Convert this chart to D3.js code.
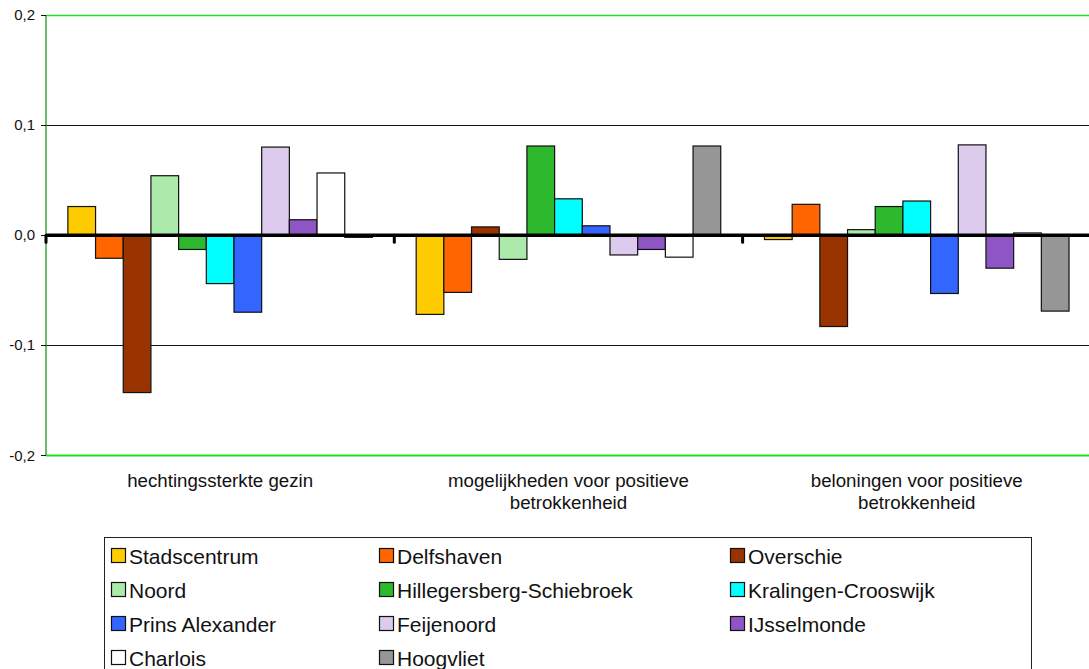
<!DOCTYPE html>
<html><head><meta charset="utf-8">
<script src="https://cdn.jsdelivr.net/npm/d3@7/dist/d3.min.js"></script>
<style>html,body{margin:0;padding:0;background:#fff;overflow:hidden}svg{display:block;font-family:"Liberation Sans",Arial,sans-serif}</style>
</head><body>
<script>
const categories = [["hechtingssterkte gezin"],["mogelijkheden voor positieve","betrokkenheid"],["beloningen voor positieve","betrokkenheid"]];
const seriesNames = ["Stadscentrum","Delfshaven","Overschie","Noord","Hillegersberg-Schiebroek","Kralingen-Crooswijk","Prins Alexander","Feijenoord","IJsselmonde","Charlois","Hoogvliet"];
const seriesColors = ["#FFCC00","#FF6600","#993300","#ACEAAC","#2EB82E","#00FFFF","#3366FF","#DCCBEC","#8E56C4","#FFFFFF","#969696"];
// values per series: [group1, group2, group3]
const values = [
  [0.026, -0.072, -0.004],
  [-0.021, -0.052, 0.028],
  [-0.143, 0.0075, -0.083],
  [0.054, -0.022, 0.005],
  [-0.013, 0.081, 0.026],
  [-0.044, 0.033, 0.031],
  [-0.070, 0.0085, -0.053],
  [0.080, -0.018, 0.082],
  [0.014, -0.013, -0.030],
  [0.0565, -0.020, 0.002],
  [-0.002, 0.081, -0.069]
];
const yTicks = [0.2, 0.1, 0.0, -0.1, -0.2];
const yTickLabels = ["0,2","0,1","0,0","-0,1","-0,2"];

const W = 1089, H = 669;
const svg = d3.select("body").append("svg").attr("width", W).attr("height", H);
const x0 = 46, x1 = 46 + 3*348.3;
const y = d3.scaleLinear().domain([-0.2, 0.2]).range([455.3, 15]);
const gx = d3.scaleBand().domain(d3.range(categories.length)).range([x0, x1]).paddingInner(0).paddingOuter(0);
const sx = d3.scaleBand().domain(d3.range(seriesNames.length)).range([0, gx.bandwidth()]).paddingInner(0).paddingOuter(0.79);

// gridlines
yTicks.forEach((t,i)=>{
  const green = (t===0.2 || t===-0.2);
  if (t===0) return;
  const yy = Math.round(y(t)) + 0.5;
  svg.append("line").attr("x1", x0).attr("x2", x1).attr("y1", yy).attr("y2", yy)
    .attr("stroke", green ? "#22DD22" : "#111").attr("stroke-width", green ? (t<0?2.2:1.6) : 1);
});
// y axis
svg.append("line").attr("x1", x0).attr("x2", x0).attr("y1", y(0.2)).attr("y2", y(-0.2)).attr("stroke","#1a9a1a").attr("stroke-width",1.3);
yTicks.forEach((t,i)=>{
  const yy = Math.round(y(t)) + 0.5;
  svg.append("line").attr("x1", x0-5).attr("x2", x0).attr("y1", yy).attr("y2", yy).attr("stroke","#111").attr("stroke-width",1);
  svg.append("text").attr("x", 35).attr("y", y(t)).attr("dy","0.35em").attr("text-anchor","end")
    .attr("font-size", 15).attr("fill","#111").text(yTickLabels[i]);
});

// bars
values.forEach((vals, s)=>{
  vals.forEach((v, g)=>{
    const bx = gx(g) + sx(s);
    svg.append("rect").attr("x", bx).attr("width", sx.bandwidth())
      .attr("y", Math.min(y(v), y(0))).attr("height", Math.abs(y(v)-y(0)))
      .attr("fill", seriesColors[s]).attr("stroke", "#111").attr("stroke-width", 1.2);
  });
});

// zero line
svg.append("line").attr("x1", x0).attr("x2", x1).attr("y1", y(0)).attr("y2", y(0)).attr("stroke","#000").attr("stroke-width",3.5);
// category tick marks
d3.range(categories.length+1).forEach(i=>{
  const tx = x0 + i*gx.step();
  svg.append("line").attr("x1", tx).attr("x2", tx).attr("y1", y(0)).attr("y2", y(0)+7)
    .attr("stroke","#000").attr("stroke-width",3).attr("stroke-linecap","round");
});

// category labels
categories.forEach((lines, g)=>{
  const cx = gx(g) + gx.bandwidth()/2;
  lines.forEach((ln, k)=>{
    svg.append("text").attr("x", cx).attr("y", 487 + k*22).attr("text-anchor","middle")
      .attr("font-size", 18.7).attr("fill","#111").text(ln);
  });
});

// legend
svg.append("rect").attr("x", 104.5).attr("y", 537.5).attr("width", 927).attr("height", 140)
  .attr("fill","#fff").attr("stroke","#222").attr("stroke-width",1);
const colX = [111, 379, 730];
seriesNames.forEach((n, i)=>{
  const col = i % 3, row = Math.floor(i/3);
  const cy = 556 + row*34;
  svg.append("rect").attr("x", colX[col]+0.5).attr("y", cy-7.5).attr("width", 14).attr("height", 14)
    .attr("fill", seriesColors[i]).attr("stroke","#111").attr("stroke-width",1.2);
  svg.append("text").attr("x", colX[col]+18).attr("y", cy).attr("dy","0.36em")
    .attr("font-size", 21).attr("fill","#111").text(n);
});
</script>
</body></html>
